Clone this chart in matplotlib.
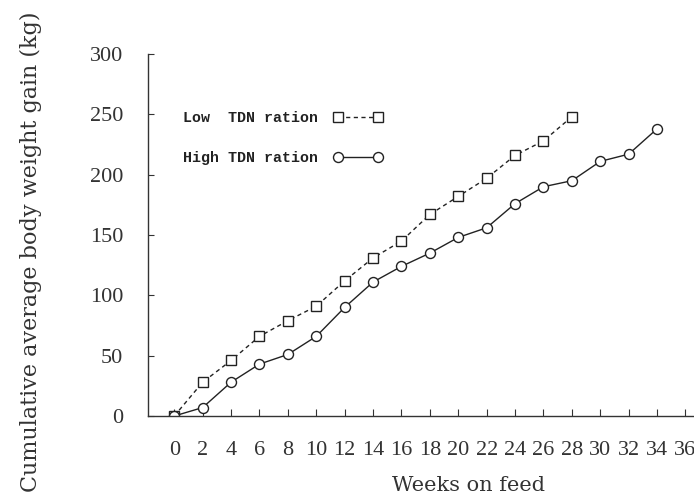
import matplotlib
matplotlib.use("Agg")
import matplotlib.pyplot as plt

weeks_low = [0, 2, 4, 6, 8, 10, 12, 14, 16, 18, 20, 22, 24, 26, 28]
gain_low = [0, 28, 46, 66, 79, 91, 112, 131, 145, 167, 182, 197, 216, 228, 248]
weeks_high = [0, 2, 4, 6, 8, 10, 12, 14, 16, 18, 20, 22, 24, 26, 28, 30, 32, 34]
gain_high = [0, 7, 28, 43, 51, 66, 90, 111, 124, 135, 148, 156, 176, 190, 195, 211, 217, 238]
xticks = list(range(0, 37, 2))
yticks = [0, 50, 100, 150, 200, 250, 300]

W, H = 694, 496
fig = plt.figure(figsize=(W / 100, H / 100), dpi=100)
ax = fig.add_axes([148 / W, (H - 416) / H, (W - 148) / W, (416 - 54) / H])

ax.plot(weeks_low, gain_low, linestyle=(0, (3, 2.5)), color="#222222", lw=1.0,
        marker="s", markersize=6.5, markerfacecolor="white", markeredgecolor="#222222",
        markeredgewidth=1.0, label="Low  TDN ration")
ax.plot(weeks_high, gain_high, linestyle="-", color="#222222", lw=1.0,
        marker="o", markersize=7.2, markerfacecolor="white", markeredgecolor="#222222",
        markeredgewidth=1.0, label="High TDN ration")

ax.set_xlim(-1.85, 36.6)
ax.set_ylim(0, 300)
ax.set_xticks(xticks)
ax.set_yticks(yticks)
ax.set_xticklabels([str(t) for t in xticks])
ax.set_yticklabels([str(t) for t in yticks])

for s in ["top", "right"]:
    ax.spines[s].set_visible(False)
for s in ["left", "bottom"]:
    ax.spines[s].set_color("#333333")
    ax.spines[s].set_linewidth(1.0)

ax.tick_params(axis="x", direction="in", length=5, width=0.8, pad=18,
               labelsize=16, colors="#333333")
ax.tick_params(axis="y", direction="in", length=4, width=0.8, pad=18,
               labelsize=16, colors="#333333")
for lab in ax.get_xticklabels() + ax.get_yticklabels():
    lab.set_fontfamily("Liberation Serif")

ax.set_xlabel("Weeks on feed", fontsize=15, fontfamily="DejaVu Serif",
              color="#333333")
ax.xaxis.set_label_coords((468 - 148) / (W - 148), (416 - 476) / (416 - 54))
ax.set_ylabel("Cumulative average body weight gain (kg)", fontsize=16,
              fontfamily="DejaVu Serif", color="#333333")
ax.yaxis.set_label_coords((42 - 148) / (W - 148), (416 - 252) / (416 - 54))

leg = ax.legend(loc="upper left", bbox_to_anchor=(0.04, 0.88), frameon=False,
                markerfirst=False, numpoints=2, handlelength=3.3, handletextpad=1.0,
                labelspacing=1.75, prop={"family": "Liberation Mono", "weight": "bold", "size": 10.8})
for t in leg.get_texts():
    t.set_color("#222222")

fig.savefig("out.png", dpi=100)
